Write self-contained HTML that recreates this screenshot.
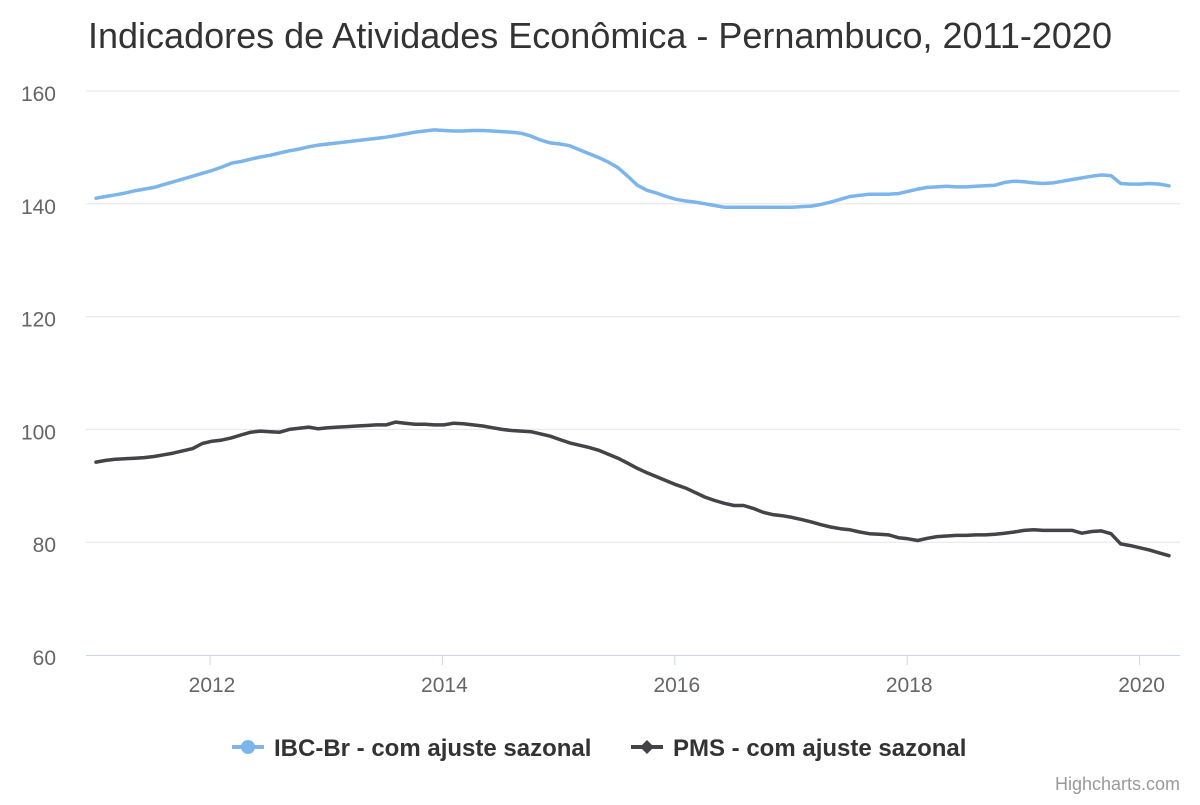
<!DOCTYPE html>
<html><head><meta charset="utf-8"><style>
body{margin:0;background:#fff;font-family:"Liberation Sans",sans-serif}
svg text{font-family:"Liberation Sans",sans-serif}
</style></head><body>
<svg width="1200" height="800" id="c">
<text x="88" y="48" font-size="36" fill="#333">Indicadores de Atividades Econômica - Pernambuco, 2011-2020</text>
<g id="grid"></g><g id="xaxis"></g><g id="series"></g>
<g>
<g><line x1="232" y1="747" x2="264" y2="747" stroke="#7cb5ec" stroke-width="4"/><circle cx="248" cy="747" r="7" fill="#7cb5ec"/><text x="274" y="756" font-size="24" font-weight="bold" fill="#333">IBC-Br - com ajuste sazonal</text></g>
<g><line x1="631" y1="747" x2="663" y2="747" stroke="#434348" stroke-width="4"/><path d="M647 740 L654 747 L647 754 L640 747Z" fill="#434348"/><text x="673" y="756" font-size="24" font-weight="bold" fill="#333">PMS - com ajuste sazonal</text></g>
</g>
<text x="1180" y="790" font-size="18" fill="#999" text-anchor="end">Highcharts.com</text>
</svg>
<script>
const yTicks=[60,80,100,120,140,160];
const xTicks=[2012,2014,2016,2018,2020];
const ibc=[141.0,141.3,141.6,141.9,142.3,142.6,142.9,143.4,143.9,144.4,144.9,145.4,
145.9,146.5,147.2,147.5,147.9,148.3,148.6,149.0,149.4,149.7,150.1,150.4,
150.6,150.8,151.0,151.2,151.4,151.6,151.8,152.1,152.4,152.7,152.9,153.1,
153.0,152.9,152.9,153.0,153.0,152.9,152.8,152.7,152.5,152.0,151.3,150.8,
150.6,150.3,149.6,148.9,148.2,147.4,146.4,144.9,143.3,142.4,141.9,141.3,
140.8,140.5,140.3,140.0,139.7,139.4,139.4,139.4,139.4,139.4,139.4,139.4,
139.4,139.5,139.6,139.9,140.3,140.8,141.3,141.5,141.7,141.7,141.7,141.8,
142.2,142.6,142.9,143.0,143.1,143.0,143.0,143.1,143.2,143.3,143.8,144.0,
143.9,143.7,143.6,143.7,144.0,144.3,144.6,144.9,145.1,145.0,143.6,143.5,
143.5,143.6,143.5,143.2];
const pms=[94.2,94.5,94.7,94.8,94.9,95.0,95.2,95.5,95.8,96.2,96.6,97.5,
97.9,98.1,98.5,99.0,99.5,99.7,99.6,99.5,100.0,100.2,100.4,100.1,
100.3,100.4,100.5,100.6,100.7,100.8,100.8,101.3,101.1,100.9,100.9,100.8,
100.8,101.1,101.0,100.8,100.6,100.3,100.0,99.8,99.7,99.6,99.2,98.8,
98.2,97.6,97.2,96.8,96.3,95.6,94.9,94.0,93.1,92.3,91.6,90.9,
90.2,89.6,88.8,88.0,87.4,86.9,86.5,86.5,86.0,85.3,84.9,84.7,
84.4,84.0,83.6,83.1,82.7,82.4,82.2,81.8,81.5,81.4,81.3,80.8,
80.6,80.3,80.7,81.0,81.1,81.2,81.2,81.3,81.3,81.4,81.6,81.8,
82.1,82.2,82.1,82.1,82.1,82.1,81.6,81.9,82.0,81.5,79.7,79.4,
79.0,78.6,78.1,77.6];
const NS='http://www.w3.org/2000/svg';
const L=86,R=1180,T=91,B=655;
const y=v=>B-(v-60)/100*(B-T);
const x=t=>210+(t-2012)*116.2;
const xd=i=>96+i*(1073/111);
function mk(tag,a,p){const e=document.createElementNS(NS,tag);for(const k in a)e.setAttribute(k,a[k]);p.appendChild(e);return e;}
const g=document.getElementById('grid'),xa=document.getElementById('xaxis'),s=document.getElementById('series');
yTicks.forEach(v=>{
 if(v>60){const l=mk('line',{x1:L,x2:R,y1:y(v),y2:y(v),stroke:'#e6e6e6','stroke-width':1},g);
 
 }
 const t=mk('text',{x:56,y:y(v)+10,'font-size':21,fill:'#666','text-anchor':'end'},g);t.textContent=v;
 
 
});
const ax=mk('line',{x1:L,x2:R,y1:B+0.5,y2:B+0.5,stroke:'#ccd6eb','stroke-width':1},xa);


xTicks.forEach(v=>{
 mk('line',{x1:x(v),x2:x(v),y1:B,y2:B+10,stroke:'#ccd6eb'},xa);
 const t=mk('text',{x:x(v)+2,y:B+37,'font-size':21,fill:'#666','text-anchor':'middle'},xa);t.textContent=v;
 
 
});
function line(d,c,n){
 const pts=d.map((v,i)=>xd(i).toFixed(1)+','+y(v).toFixed(1)).join(' ');
 const p=mk('polyline',{points:pts,fill:'none',stroke:c,'stroke-width':3.5,'stroke-linejoin':'round','stroke-linecap':'round'},s);
 
 
}
line(ibc,'#7cb5ec','ibc-br-line');
line(pms,'#434348','pms-line');
</script>
</body></html>
